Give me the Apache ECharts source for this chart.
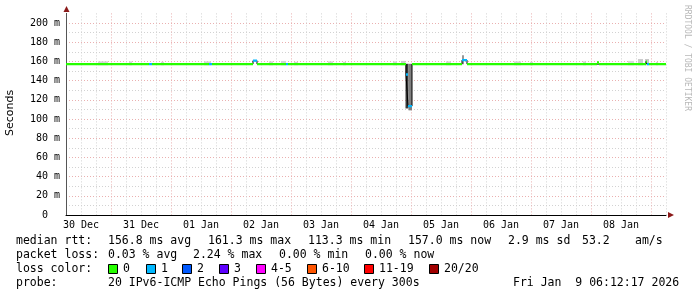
<!DOCTYPE html>
<html><head><meta charset="utf-8">
<script src="https://cdn.jsdelivr.net/npm/echarts@6/dist/echarts.min.js"></script>
<style>html,body{margin:0;padding:0;background:#fff}#c{width:697px;height:297px}</style>
</head><body><div id="c"></div>
<script>
// x values are hours since 30 Dec 00:00
const dayLabels = ['30 Dec','31 Dec','01 Jan','02 Jan','03 Jan','04 Jan','05 Jan','06 Jan','07 Jan','08 Jan'];
const yLabelStep = 20;          // labelled every 20 ms
const axisStart = 6, axisEnd = 246;

// median rtt segments (start hour, median ms, lost pings of 20)
const segStart  = [6, 39.2, 40.4, 63.2, 64.4, 80.8, 82.4, 94.0, 94.8, 142.0, 142.8, 144.4, 164.4, 166.4, 218.4, 219.2, 238.0, 238.4, 239.2];
const segMedian = [157.2, 157.2, 157.2, 157.2, 157.2, 160.8, 157.2, 157.2, 157.2, 146.4, 113.4, 157.2, 161.3, 157.2, 158.8, 157.2, 159.8, 157.2, 157.2];
const segLoss   = [0, 1, 0, 1, 0, 1, 0, 1, 0, 1, 1, 0, 1, 0, 0, 0, 0, 1, 0];
const segEnd    = 246;

// smoke (ping spread) visible outside the median line
const smokeStart = [18.8, 31.2, 44.0, 61.2, 87.2, 92.0, 97.2, 110.8, 116.8, 136.8, 140.0, 141.8, 143.0, 158.0, 164.4, 185.2, 191.6, 212.8, 230.8, 234.8, 237.6, 242.0];
const smokeEnd   = [22.8, 32.4, 45.2, 64.0, 88.8, 94.0, 98.8, 112.8, 118.0, 138.4, 141.8, 143.0, 144.4, 160.0, 165.2, 188.0, 192.8, 214.0, 233.2, 236.8, 239.2, 242.8];
const smokeLow   = [156, 156, 156, 156, 156, 156, 156, 156, 156, 156, 156, 111, 109, 156, 157, 156, 156, 156, 156, 156, 156, 156];
const smokeHigh  = [160, 160, 159.5, 160, 160, 160.5, 159.5, 160, 159.5, 160, 160.5, 157.5, 157.5, 160, 166.5, 160, 159.5, 160, 160.5, 162.5, 162.5, 159.5];
const smokeShade = ['#d4d4d4','#d4d4d4','#d4d4d4','#d4d4d4','#d4d4d4','#d4d4d4','#d4d4d4','#d4d4d4','#d4d4d4','#d4d4d4','#cccccc','#3a3a3a','#808080','#d4d4d4','#999999','#d4d4d4','#d4d4d4','#d4d4d4','#dadada','#cccccc','#c8c8c8','#d4d4d4'];

const lossColors = ['#26ff00','#00b8ff','#0059ff','#5e00ff','#ff00ff','#ff5500','#ff0000','#a10000'];
const lossLabels = ['0','1','2','3','4-5','6-10','11-19','20/20'];

const MONO = '"DejaVu Sans Mono", monospace';

// build series
const smokeData = smokeStart.map((s, i) => [s, smokeEnd[i], smokeLow[i], smokeHigh[i], smokeShade[i]]);
const lossSeriesData = lossColors.map(() => []);
segStart.forEach((t0, i) => {
  const t1 = i + 1 < segStart.length ? segStart[i + 1] : segEnd;
  const d = lossSeriesData[segLoss[i]];
  d.push([t0, segMedian[i]], [t1, segMedian[i]], [t1, '-']);
});
const medianStep = segStart.map((t, i) => [t, segMedian[i]]);
medianStep.push([segEnd, segMedian[segMedian.length - 1]]);

const series = [
  {
    type: 'custom', z: 2, silent: true,
    encode: { x: [0, 1], y: [2, 3] },
    data: smokeData,
    renderItem: (params, api) => {
      const p0 = api.coord([api.value(0), api.value(3)]);
      const p1 = api.coord([api.value(1), api.value(2)]);
      return { type: 'rect', shape: { x: p0[0], y: p0[1], width: p1[0] - p0[0], height: p1[1] - p0[1] },
               style: { fill: smokeData[params.dataIndex][4] } };
    }
  },
  {
    type: 'line', z: 3, step: 'end', silent: true, symbol: 'none',
    data: medianStep, lineStyle: { color: '#000', width: 1 }
  }
];
lossSeriesData.forEach((d, k) => {
  if (!d.length) return;
  series.push({ type: 'line', z: 4, silent: true, symbol: 'none', connectNulls: false,
    data: d, lineStyle: { color: lossColors[k], width: 2.4 } });
});

const gridMinor = '#d2d2d2', gridMajor = '#eab0b0';

// legend graphics
const g = [];
const txt = (x, y, s, extra) => g.push(Object.assign({ type: 'text', x, y, style: { text: s, font: '11.5px ' + MONO, fill: '#000', textVerticalAlign: 'middle' } }, extra || {}));
txt(16, 241, 'median rtt:');
txt(108, 241, '156.8 ms avg'); txt(208, 241, '161.3 ms max'); txt(308, 241, '113.3 ms min');
txt(408, 241, '157.0 ms now'); txt(508, 241, '2.9 ms sd'); txt(582, 241, '53.2'); txt(635, 241, 'am/s');
txt(16, 255, 'packet loss:');
txt(108, 255, '0.03 % avg'); txt(193, 255, '2.24 % max'); txt(279, 255, '0.00 % min'); txt(365, 255, '0.00 % now');
txt(16, 269, 'loss color:');
const boxX = [108, 146, 182, 219, 256, 307, 364, 429];
lossLabels.forEach((l, i) => {
  g.push({ type: 'rect', shape: { x: boxX[i] + 0.5, y: 264.5, width: 9, height: 9 }, style: { fill: lossColors[i], stroke: '#000', lineWidth: 1 } });
  txt(boxX[i] + 15, 269, l);
});
txt(16, 283, 'probe:');
txt(108, 283, '20 IPv6-ICMP Echo Pings (56 Bytes) every 300s');
txt(513, 283, 'Fri Jan  9 06:12:17 2026');
// y title
g.push({ type: 'text', x: 10, y: 113, rotation: Math.PI / 2, style: { text: 'Seconds', font: '11px "DejaVu Sans", sans-serif', fill: '#000', textAlign: 'center', textVerticalAlign: 'middle' } });
// watermark
g.push({ type: 'text', x: 687, y: 5, rotation: -Math.PI / 2, style: { text: 'RRDTOOL / TOBI OETIKER', font: '8px ' + MONO, fill: '#b8b8b8', textAlign: 'left', textVerticalAlign: 'middle' } });
// arrows
g.push({ type: 'polygon', shape: { points: [[668, 212], [674, 215], [668, 218]] }, style: { fill: '#8b1a1a' } });
g.push({ type: 'polygon', shape: { points: [[63.5, 12], [66.5, 6], [69.5, 12]] }, style: { fill: '#8b1a1a' } });

const chart = echarts.init(document.getElementById('c'), null, { renderer: 'canvas' });
chart.setOption({
  animation: false,
  backgroundColor: '#fff',
  grid: { left: 66, top: 13.4, width: 600, height: 201.6, containLabel: false },
  xAxis: {
    type: 'value', min: axisStart, max: axisEnd, interval: 6,
    axisLine: { show: true, lineStyle: { color: '#000', width: 1 } },
    axisTick: { show: false },
    axisLabel: { margin: 5, color: '#000', fontFamily: MONO, fontSize: 10,
      formatter: v => (v % 24 === 12 ? dayLabels[(v - 12) / 24] : '') },
    splitLine: { show: true, lineStyle: { color: [gridMinor, gridMinor, gridMinor, gridMajor], type: [1, 2], width: 1 } }
  },
  yAxis: {
    type: 'value', min: 0, max: 210, interval: 10,
    axisLine: { show: true, lineStyle: { color: '#555', width: 1 } },
    axisTick: { show: false },
    axisLabel: { margin: 6, color: '#000', fontFamily: MONO, fontSize: 10,
      formatter: v => (v % yLabelStep === 0 ? (v === 0 ? '0  ' : v + ' m') : '') },
    splitLine: { show: true, showMaxLine: false, lineStyle: { color: [gridMajor, gridMinor], type: [1, 2], width: 1 } }
  },
  series,
  graphic: g
});
</script></body></html>
